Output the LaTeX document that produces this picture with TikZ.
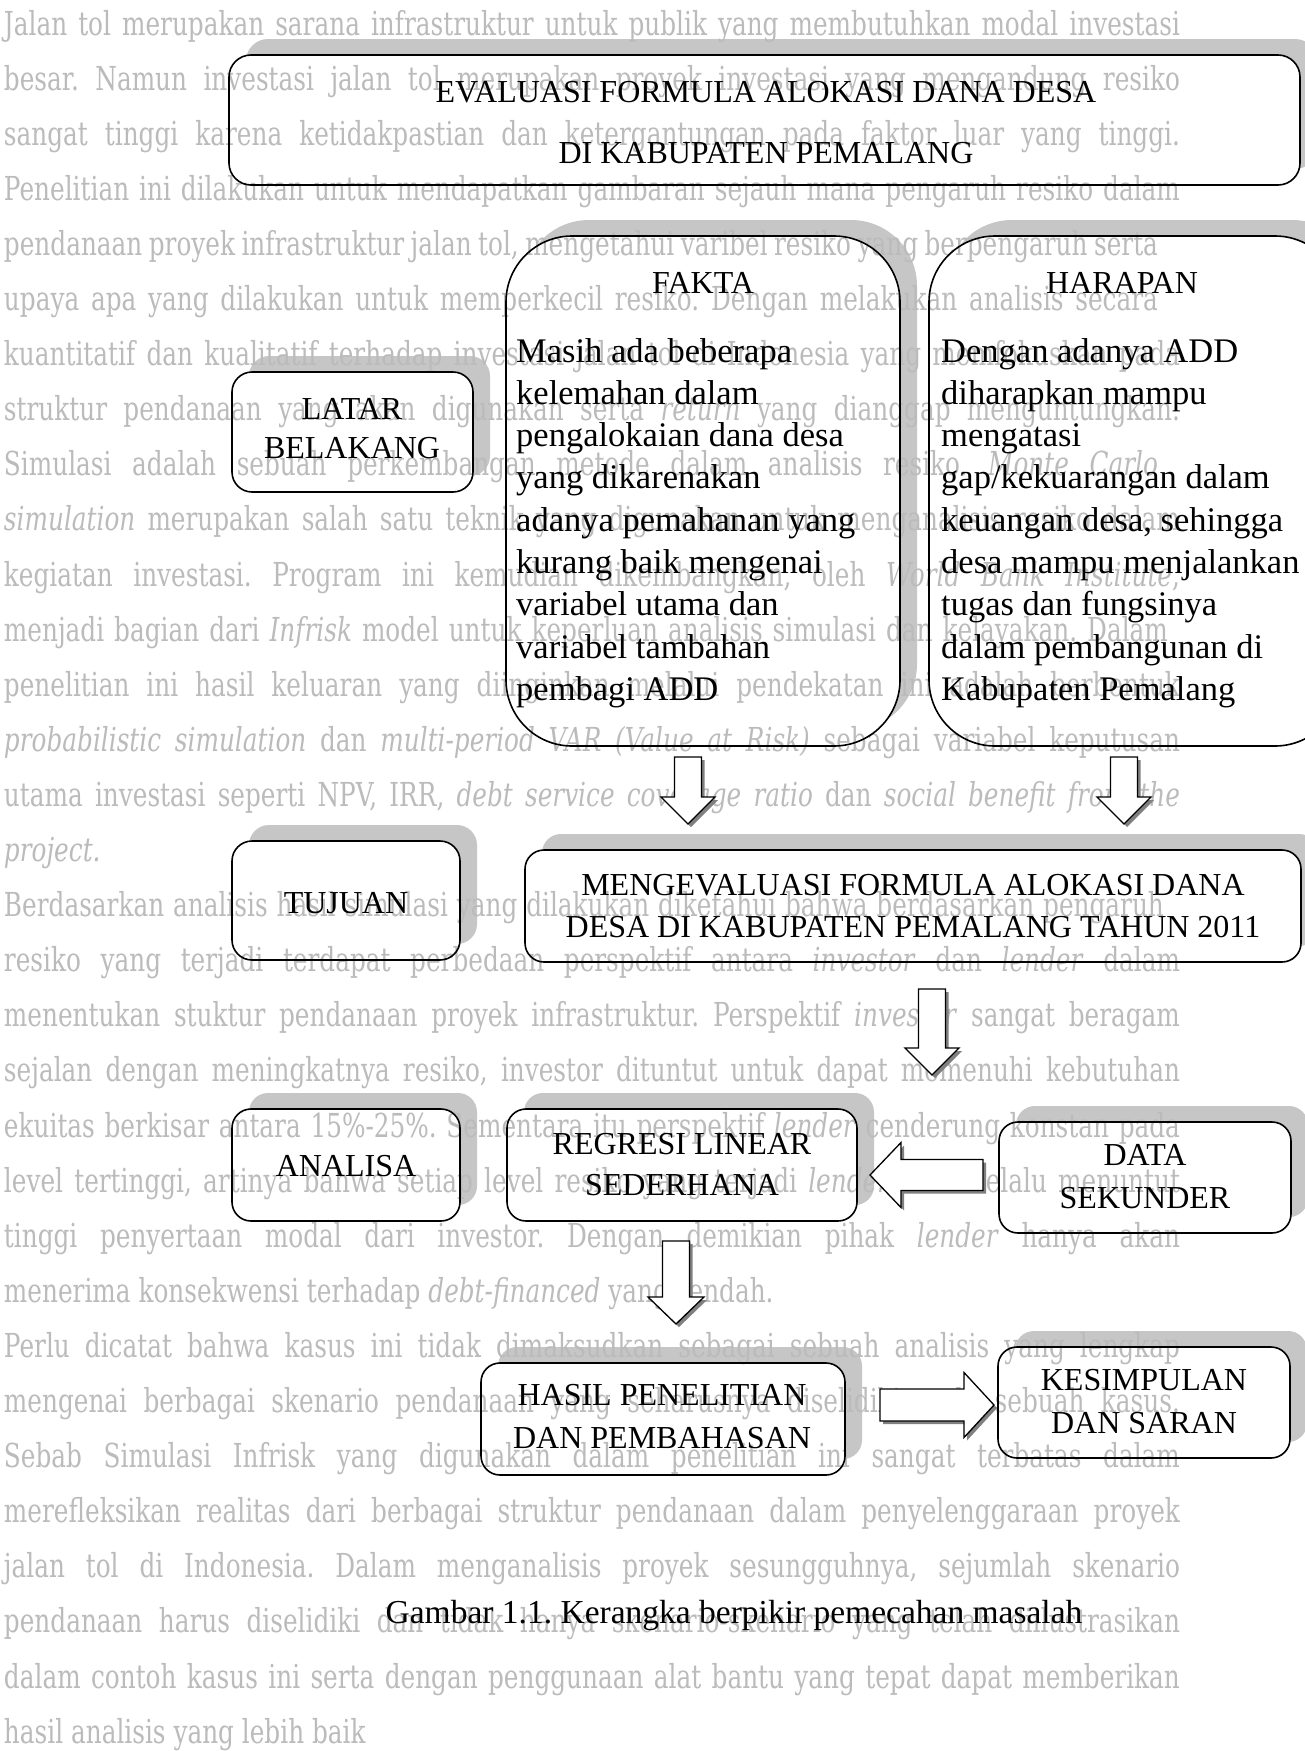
\documentclass[tikz,border=0pt]{standalone}
\usepackage{fontspec}
\setmainfont{Liberation Serif}
\newfontfamily\bgfont[FakeStretch=0.75]{DejaVu Serif}
\definecolor{shadowc}{HTML}{C6C6C6}
\definecolor{bgtext}{HTML}{BBBBBB}
\definecolor{arrshade}{HTML}{808080}
\frenchspacing
\newcommand\mkbox[5]{\node[boxshape, minimum width={(#4)-(#2)}, minimum height={(#5)-(#3)}] (#1) at ({((#2)+(#4))/2},{-((#3)+(#5))/2}) {};}
\newcommand\bgJ[3]{\node[bgline] (bg#1) at (4,{-(35+55.1*#1)}) {\makebox[#2pt][s]{#3}};}
\newcommand\bgN[2]{\node[bgline] (bg#1) at (4,{-(35+55.1*#1)}) {#2};}
% #1 tail coordinate, #2 angle, #3 length, #4 head length, #5 half shaft, #6 half head
\newcommand\blockarrow[6]{%
  \fill[arrshade, shift={(#1)}, shift={(3,-3)}, rotate=#2] (0,-#5) -- ({#3-#4},-#5) -- ({#3-#4},-#6) -- (#3,0) -- ({#3-#4},#6) -- ({#3-#4},#5) -- (0,#5) -- cycle;
  \draw[arrline, shift={(#1)}, rotate=#2] (0,-#5) -- ({#3-#4},-#5) -- ({#3-#4},-#6) -- (#3,0) -- ({#3-#4},#6) -- ({#3-#4},#5) -- (0,#5) -- cycle;}
\begin{document}
\begin{tikzpicture}[x=1pt,y=1pt,
  boxshape/.style={rectangle, inner sep=0pt, outer sep=0pt},
  boxline/.style={draw=black, line width=1.6pt},
  arrline/.style={draw=black, fill=white, line width=1.3pt, line join=miter},
  bgline/.style={anchor=base west, inner sep=0pt, outer sep=0pt, text=bgtext, font=\bgfont\fontsize{33}{33}\selectfont},
  lbl/.style={anchor=base, inner sep=0pt, font=\fontsize{32}{38}\selectfont},
  body/.style={anchor=base west, inner sep=0pt, font=\fontsize{34.5}{40}\selectfont}]
\fill[white] (0,0) rectangle (1305,-1751);
\useasboundingbox (0,0) rectangle (1305,-1751);
% box frames (named)
\mkbox{title}{229}{55}{1300}{185}
\mkbox{fakta}{506}{236}{900}{746}
\mkbox{harapan}{929}{236}{1341}{746}
\mkbox{latar}{232}{372}{473}{492}
\mkbox{tujuan}{232}{841}{460}{960}
\mkbox{tujuanisi}{525}{850}{1301}{962}
\mkbox{analisa}{232}{1109}{460}{1221}
\mkbox{regresi}{507}{1109}{857}{1221}
\mkbox{data}{999}{1122}{1291}{1233}
\mkbox{hasil}{481}{1363}{845}{1475}
\mkbox{kesimpulan}{998}{1347}{1290}{1458}
% shadows
\foreach \n/\r in {title/22pt,fakta/66pt,harapan/66pt,latar/20pt,tujuan/20pt,tujuanisi/19pt,analisa/19pt,regresi/19pt,data/19pt,hasil/19pt,kesimpulan/19pt}
  \fill[shadowc, rounded corners=\r] ([shift={(17,16)}]\n.south west) rectangle ([shift={(17,16)}]\n.north east);
% white fills
\foreach \n/\r in {title/22pt,fakta/66pt,harapan/66pt,latar/20pt,tujuan/20pt,tujuanisi/19pt,analisa/19pt,regresi/19pt,data/19pt,hasil/19pt,kesimpulan/19pt}
  \fill[white, rounded corners=\r] (\n.south west) rectangle (\n.north east);
% faded background text
\bgJ{0}{1176}{Jalan tol merupakan sarana infrastruktur untuk publik yang membutuhkan modal investasi}
\bgJ{1}{1176}{besar. Namun investasi jalan tol merupakan proyek investasi yang mengandung resiko}
\bgJ{2}{1176}{sangat tinggi karena ketidakpastian dan ketergantungan pada faktor luar yang tinggi.}
\bgJ{3}{1176}{Penelitian ini dilakukan untuk mendapatkan gambaran sejauh mana pengaruh resiko dalam}
\bgJ{4}{1154}{pendanaan proyek infrastruktur jalan tol, mengetahui varibel resiko yang berpengaruh serta}
\bgJ{5}{1154}{upaya apa yang dilakukan untuk memperkecil resiko. Dengan melakukan analisis secara}
\bgJ{6}{1176}{kuantitatif dan kualitatif terhadap investasi jalan tol di Indonesia yang memfokuskan pada}
\bgJ{7}{1176}{struktur pendanaan yang akan digunakan serta \textit{return} yang dianggap menguntungkan.}
\bgJ{8}{1154}{Simulasi adalah sebuah perkembangan metode dalam analisis resiko. \textit{Monte Carlo}}
\bgJ{9}{1176}{\textit{simulation} merupakan salah satu teknik yang digunakan untuk menganalisis resiko dalam}
\bgJ{10}{1176}{kegiatan investasi. Program ini kemudian dikembangkan, oleh \textit{World Bank Institute},}
\bgJ{11}{1164}{menjadi bagian dari \textit{Infrisk} model untuk keperluan analisis simulasi dan kelayakan. Dalam}
\bgJ{12}{1176}{penelitian ini hasil keluaran yang diinginkan melalui pendekatan ini adalah berbentuk}
\bgJ{13}{1176}{\textit{probabilistic simulation} dan \textit{multi-period VAR (Value at Risk)} sebagai variabel keputusan}
\bgJ{14}{1176}{utama investasi seperti NPV, IRR, \textit{debt service coverage ratio} dan \textit{social benefit from the}}
\bgN{15}{\textit{project.}}
\bgJ{16}{1160}{Berdasarkan analisis hasil simulasi yang dilakukan diketahui bahwa berdasarkan pengaruh}
\bgJ{17}{1176}{resiko yang terjadi terdapat perbedaan perspektif antara \textit{investor} dan \textit{lender} dalam}
\bgJ{18}{1176}{menentukan stuktur pendanaan proyek infrastruktur. Perspektif \textit{investor} sangat beragam}
\bgJ{19}{1176}{sejalan dengan meningkatnya resiko, investor dituntut untuk dapat memenuhi kebutuhan}
\bgJ{20}{1176}{ekuitas berkisar antara 15\%-25\%. Sementara itu perspektif \textit{lender} cenderung konstan pada}
\bgJ{21}{1176}{level tertinggi, artinya bahwa setiap level resiko yang terjadi \textit{lender} akan selalu menuntut}
\bgJ{22}{1176}{tinggi penyertaan modal dari investor. Dengan demikian pihak \textit{lender} hanya akan}
\bgN{23}{menerima konsekwensi terhadap \textit{debt-financed} yang rendah.}
\bgJ{24}{1176}{Perlu dicatat bahwa kasus ini tidak dimaksudkan sebagai sebuah analisis yang lengkap}
\bgJ{25}{1176}{mengenai berbagai skenario pendanaan yang seharusnya diselidiki pada sebuah kasus.}
\bgJ{26}{1176}{Sebab Simulasi Infrisk yang digunakan dalam penelitian ini sangat terbatas dalam}
\bgJ{27}{1176}{merefleksikan realitas dari berbagai struktur pendanaan dalam penyelenggaraan proyek}
\bgJ{28}{1176}{jalan tol di Indonesia. Dalam menganalisis proyek sesungguhnya, sejumlah skenario}
\bgJ{29}{1176}{pendanaan harus diselidiki dan tidak hanya skenario-skenario yang telah diilustrasikan}
\bgJ{30}{1176}{dalam contoh kasus ini serta dengan penggunaan alat bantu yang tepat dapat memberikan}
\bgN{31}{hasil analisis yang lebih baik}
% outlines
\foreach \n/\r in {title/22pt,fakta/66pt,harapan/66pt,latar/20pt,tujuan/20pt,tujuanisi/19pt,analisa/19pt,regresi/19pt,data/19pt,hasil/19pt,kesimpulan/19pt}
  \draw[boxline, rounded corners=\r] (\n.south west) rectangle (\n.north east);
% block arrows (connectors)
\coordinate (a1) at (688,-757);
\coordinate (a2) at (1124,-757);
\coordinate (a3) at (932,-989);
\coordinate (a4) at (676,-1241);
\coordinate (a5) at (983,-1175);
\coordinate (a6) at (880,-1405);
\blockarrow{a1}{-90}{67}{27}{13.5}{27}
\blockarrow{a2}{-90}{67}{27}{13.5}{27}
\blockarrow{a3}{-90}{86}{27}{13.5}{27}
\blockarrow{a4}{-90}{83}{27}{13.5}{28}
\blockarrow{a5}{180}{113}{31}{15.5}{32.5}
\blockarrow{a6}{0}{114}{30}{16}{32.5}
% texts
\node[lbl] (t1) at (766,-102) {EVALUASI FORMULA ALOKASI DANA DESA};
\node[lbl] (t2) at (766,-163) {DI KABUPATEN PEMALANG};
\node[lbl] (fk) at (703,-293) {FAKTA};
\node[lbl] (hp) at (1122,-293) {HARAPAN};
\node[body] (f1) at (516,-362) {Masih ada beberapa};
\node[body] (f2) at (516,-404.3) {kelemahan dalam};
\node[body] (f3) at (516,-446.6) {pengalokaian dana desa};
\node[body] (f4) at (516,-488.9) {yang dikarenakan};
\node[body] (f5) at (516,-531.2) {adanya pemahanan yang};
\node[body] (f6) at (516,-573.5) {kurang baik mengenai};
\node[body] (f7) at (516,-615.8) {variabel utama dan};
\node[body] (f8) at (516,-658.1) {variabel tambahan};
\node[body] (f9) at (516,-700.4) {pembagi ADD};
\node[body] (h1) at (941,-362) {Dengan adanya ADD};
\node[body] (h2) at (941,-404.3) {diharapkan mampu};
\node[body] (h3) at (941,-446.6) {mengatasi};
\node[body] (h4) at (941,-488.9) {gap/kekuarangan dalam};
\node[body] (h5) at (941,-531.2) {keuangan desa, sehingga};
\node[body] (h6) at (941,-573.5) {desa mampu menjalankan};
\node[body] (h7) at (941,-615.8) {tugas dan fungsinya};
\node[body] (h8) at (941,-658.1) {dalam pembangunan di};
\node[body] (h9) at (941,-700.4) {Kabupaten Pemalang};
\node[lbl] (l1) at (352,-419) {LATAR};
\node[lbl] (l2) at (352,-458) {BELAKANG};
\node[lbl] (tj) at (346,-913) {TUJUAN};
\node[lbl] (m1) at (913,-895) {MENGEVALUASI FORMULA ALOKASI DANA};
\node[lbl] (m2) at (913,-937) {DESA DI KABUPATEN PEMALANG TAHUN 2011};
\node[lbl] (an) at (346,-1176) {ANALISA};
\node[lbl] (r1) at (682,-1154) {REGRESI LINEAR};
\node[lbl] (r2) at (682,-1195) {SEDERHANA};
\node[lbl] (d1) at (1145,-1165) {DATA};
\node[lbl] (d2) at (1145,-1208) {SEKUNDER};
\node[lbl] (s1) at (662,-1405) {HASIL PENELITIAN};
\node[lbl] (s2) at (662,-1448) {DAN PEMBAHASAN};
\node[lbl] (k1) at (1144,-1390) {KESIMPULAN};
\node[lbl] (k2) at (1144,-1433) {DAN SARAN};
\node[lbl, font=\fontsize{33.5}{40}\selectfont] (cap) at (734,-1623) {Gambar 1.1. Kerangka berpikir pemecahan masalah};
\end{tikzpicture}
\end{document}
